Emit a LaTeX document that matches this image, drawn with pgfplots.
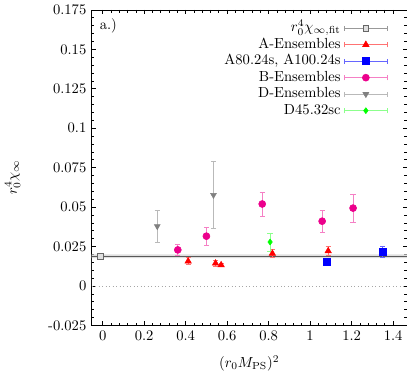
\documentclass[border=0pt]{standalone}
\usepackage{pgfplots}
\pgfplotsset{compat=1.18}

% legend sample: horizontal error bar with caps and the marker in its middle
\newcommand{\errleg}[3]{%
  \draw[#1, line width=0.5pt] (0pt,0pt) -- (30pt,0pt) (0pt,-1.8pt) -- (0pt,1.8pt) (30pt,-1.8pt) -- (30pt,1.8pt);
  \path plot[mark=#2, mark options={#3}] coordinates {(15pt,0pt)};}

\begin{document}
\begin{tikzpicture}[trim axis right]
\begin{axis}[
    scale only axis, width=216pt, height=216pt,
    xmin=-0.054, xmax=1.467, ymin=-0.025, ymax=0.175,
    xtick={0,0.2,0.4,0.6,0.8,1,1.2,1.4},
    ytick={-0.025,0,0.025,0.05,0.075,0.1,0.125,0.15,0.175},
    yticklabels={-0.025,0,0.025,0.05,0.075,0.1,0.125,0.15,0.175},
    scaled y ticks=false,
    minor x tick num=4, minor y tick num=4,
    tick align=inside, major tick length=3pt, minor tick length=1.8pt,
    axis line style={line width=0.6pt},
    every tick/.style={black, line width=0.5pt},
    xlabel={$(r_0M_{\mathrm{PS}})^2$},
    xlabel style={yshift=-4pt},
    ylabel={$r_0^4\chi_\infty$},
    ylabel style={at={(axis description cs:-0.25,0.47)}, anchor=center},
    legend cell align=right, legend plot pos=right,
    legend style={draw=none, fill=none, at={(rel axis cs:0.955,0.978)}, anchor=north east,
        row sep=0.3pt,
        nodes={inner ysep=1pt, text height=7pt, text depth=2pt}},
]
% fit band, fit value and zero line
\addplot[fill=gray!25, draw=none, forget plot] coordinates {(-0.054,0.0177) (1.467,0.0177) (1.467,0.0201) (-0.054,0.0201)} \closedcycle;
\addplot[black!65, line width=0.6pt, forget plot] coordinates {(-0.054,0.0189) (1.467,0.0189)};
\addplot[gray!70, dotted, forget plot] coordinates {(-0.054,0) (1.467,0)};

\addplot[only marks, mark=square*, mark size=2pt, mark options={fill=gray!25, draw=black!60},
    legend image code/.code={\errleg{gray!80}{square*}{fill=gray!25, draw=black!60, mark size=2pt}},
    error bars/.cd, y dir=both, y explicit,
    error bar style={black!60, line width=0.5pt}, error mark options={rotate=90, mark size=1.3pt, black!60}]
    coordinates {(-0.012,0.0189) +- (0,0.0010)};
\addlegendentry{$r_0^4\chi_{\infty,\mathrm{fit}}$}

\addplot[only marks, mark=triangle*, mark size=2.5pt, red,
    legend image code/.code={\errleg{red!55}{triangle*}{red, mark size=2.5pt}},
    error bars/.cd, y dir=both, y explicit,
    error bar style={red!55, line width=0.5pt}, error mark options={rotate=90, mark size=1.8pt, red!55}]
    coordinates {(0.412,0.0157) +- (0,0.0022) (0.544,0.0144) +- (0,0.0021) (0.571,0.0133) +- (0,0.0010)
                 (0.818,0.0206) +- (0,0.0026) (1.087,0.0222) +- (0,0.0029)};
\addlegendentry{A-Ensembles}

\addplot[only marks, mark=square*, mark size=2.4pt, blue,
    legend image code/.code={\errleg{blue!60}{square*}{blue, mark size=2.4pt}},
    error bars/.cd, y dir=both, y explicit,
    error bar style={blue!60, line width=0.5pt}, error mark options={rotate=90, mark size=1.8pt, blue!60}]
    coordinates {(1.082,0.0154) +- (0,0.0008) (1.350,0.0220) +- (0,0.0035)};
\addlegendentry{A80.24s, A100.24s}

\addplot[only marks, mark=*, mark size=2.4pt, magenta,
    legend image code/.code={\errleg{magenta!50}{*}{magenta, mark size=2.4pt}},
    error bars/.cd, y dir=both, y explicit,
    error bar style={magenta!50, line width=0.5pt}, error mark options={rotate=90, mark size=1.8pt, magenta!50}]
    coordinates {(0.362,0.0229) +- (0,0.0035) (0.500,0.0316) +- (0,0.0055) (0.769,0.0520) +- (0,0.0075)
                 (1.058,0.0411) +- (0,0.0068) (1.207,0.0494) +- (0,0.0090)};
\addlegendentry{B-Ensembles}

\addplot[only marks, mark=triangle*, mark options={rotate=180}, mark size=2.3pt, gray,
    legend image code/.code={\errleg{gray!55}{triangle*}{gray, rotate=180, mark size=2.3pt}},
    error bars/.cd, y dir=both, y explicit,
    error bar style={gray!55, line width=0.5pt}, error mark options={rotate=90, mark size=1.8pt, gray!55}]
    coordinates {(0.263,0.0379) +- (0,0.0101) (0.534,0.0577) +- (0,0.0214)};
\addlegendentry{D-Ensembles}

\addplot[only marks, mark=diamond*, mark size=2pt, green,
    legend image code/.code={\errleg{green!45}{diamond*}{green, mark size=2pt}},
    error bars/.cd, y dir=both, y explicit,
    error bar style={green!45, line width=0.5pt}, error mark options={rotate=90, mark size=1.8pt, green!45}]
    coordinates {(0.807,0.0279) +- (0,0.0057)};
\addlegendentry{D45.32sc}

\node[anchor=west] at (axis description cs:0.01,0.95) {a.)};
\end{axis}
\end{tikzpicture}
\end{document}
